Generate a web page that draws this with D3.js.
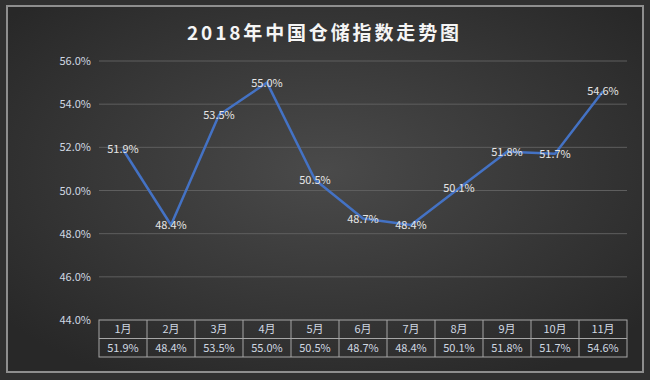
<!DOCTYPE html>
<html><head><meta charset="utf-8">
<script src="https://cdn.jsdelivr.net/npm/d3@7/dist/d3.min.js"></script>
<style>html,body{margin:0;padding:0;background:#303030;overflow:hidden}</style>
</head><body>
<svg id="c" width="650" height="380"></svg>
<script>
const title = "2018年中国仓储指数走势图";
const months = ["1月","2月","3月","4月","5月","6月","7月","8月","9月","10月","11月"];
const values = [51.9, 48.4, 53.5, 55.0, 50.5, 48.7, 48.4, 50.1, 51.8, 51.7, 54.6];
const yTicks = [44, 46, 48, 50, 52, 54, 56];

(function(){
const svg = d3.select("#c");
const font = "'Noto Sans CJK SC','Microsoft YaHei',sans-serif";
const defs = svg.append("defs");
const g1 = defs.append("radialGradient").attr("id","bg").attr("cx","50%").attr("cy","45%").attr("r","65%");
g1.append("stop").attr("offset","0%").attr("stop-color","#4a4a4a");
g1.append("stop").attr("offset","100%").attr("stop-color","#282828");

svg.append("rect").attr("x",0).attr("y",0).attr("width",650).attr("height",380).attr("fill","#303030");
svg.append("rect").attr("x",7).attr("y",6).attr("width",636).attr("height",366)
  .attr("fill","url(#bg)").attr("stroke","#8e8e8e").attr("stroke-width",2);

const tt = svg.append("text").attr("x",187).attr("y",40).attr("text-anchor","start")
  .attr("font-family",font).attr("font-weight","bold").attr("font-size",19)
  .attr("fill","#f5f5f5").text(title);
const tw = tt.node().getComputedTextLength();
const n = title.length;
tt.attr("letter-spacing", Math.max(0,(272 - tw)/(n-1)));

const pl = 99, pr = 627, pt = 61, pb = 320;
const x = d3.scaleBand().domain(months).range([pl,pr]);
const y = d3.scaleLinear().domain([44,56]).range([pb,pt]);

const grid = svg.append("g");
grid.selectAll("line").data(yTicks.filter(t=>t>44)).join("line")
  .attr("x1",pl).attr("x2",pr).attr("y1",d=>y(d)).attr("y2",d=>y(d))
  .attr("stroke","#5e5e5e").attr("stroke-width",1);

const yAxis = d3.axisLeft(y).tickValues(yTicks).tickFormat(d=>d.toFixed(1)+"%").tickSize(0).tickPadding(8);
const ya = svg.append("g").attr("transform",`translate(${pl},0)`).call(yAxis);
ya.select(".domain").remove();
ya.selectAll("text").attr("font-family",font).attr("font-size",11).attr("fill","#d0d8e2");

const line = d3.line().x((d,i)=>x(months[i])+x.bandwidth()/2).y(d=>y(d));
svg.append("path").datum(values).attr("d",line).attr("fill","none")
  .attr("stroke","#4472c4").attr("stroke-width",2.5).attr("stroke-linejoin","round");

svg.append("g").selectAll("text").data(values).join("text")
  .attr("x",(d,i)=>x(months[i])+x.bandwidth()/2)
  .attr("y",d=>y(d)+4)
  .attr("text-anchor","middle").attr("font-family",font).attr("font-size",11)
  .attr("fill","#e6e6e6").text(d=>d.toFixed(1)+"%");

const rowH = 18.5;
const tbl = svg.append("g");
tbl.append("rect").attr("x",pl).attr("y",pb).attr("width",pr-pl).attr("height",rowH*2)
  .attr("fill","none").attr("stroke","#a6a6a6").attr("stroke-width",1);
tbl.append("line").attr("x1",pl).attr("x2",pr).attr("y1",pb+rowH).attr("y2",pb+rowH)
  .attr("stroke","#a6a6a6");
tbl.selectAll("line.v").data(months.slice(1)).join("line").attr("class","v")
  .attr("x1",d=>x(d)).attr("x2",d=>x(d)).attr("y1",pb).attr("y2",pb+rowH*2)
  .attr("stroke","#a6a6a6");
tbl.selectAll("text.m").data(months).join("text").attr("class","m")
  .attr("x",d=>x(d)+x.bandwidth()/2).attr("y",pb+rowH/2+4)
  .attr("text-anchor","middle").attr("font-family",font).attr("font-size",11)
  .attr("fill","#d0d8e2").text(d=>d);
tbl.selectAll("text.v").data(values).join("text").attr("class","v")
  .attr("x",(d,i)=>x(months[i])+x.bandwidth()/2).attr("y",pb+rowH*1.5+4)
  .attr("text-anchor","middle").attr("font-family",font).attr("font-size",11)
  .attr("fill","#d0d8e2").text(d=>d.toFixed(1)+"%");
})();
</script>
</body></html>
